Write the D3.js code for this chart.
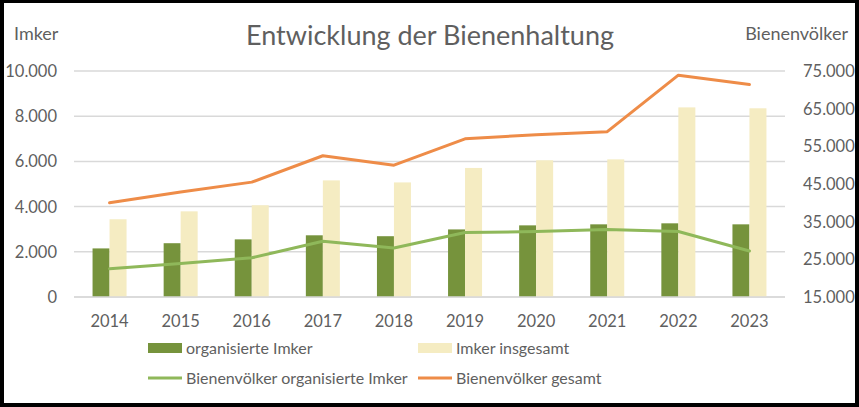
<!DOCTYPE html>
<html><head><meta charset="utf-8">
<script src="https://cdn.jsdelivr.net/npm/d3@7"></script>
<style>html,body{margin:0;padding:0;background:#fff}svg{display:block}</style>
</head><body>
<svg id="c" width="859" height="407"></svg>
<script>
const years = ["2014","2015","2016","2017","2018","2019","2020","2021","2022","2023"];
const organisierteImker = [2150,2380,2550,2730,2690,2990,3170,3215,3260,3215];
const imkerInsgesamt = [3440,3790,4060,5160,5070,5710,6050,6090,8390,8350];
const voelkerOrganisiert = [22500,23900,25400,29800,28000,32100,32400,32900,32400,27200];
const voelkerGesamt = [40000,42900,45500,52500,50000,57000,58100,58900,73900,71400];
const leftTicks = [0,2000,4000,6000,8000,10000];
const rightTicks = [15000,25000,35000,45000,55000,65000,75000];

const FONT = "Lato, 'Open Sans', sans-serif";
const TXT = "#5f5f5f";
const C_DARK = "#76933c", C_LIGHT = "#f5ecc2", C_GLINE = "#8fb85a", C_ORANGE = "#ee8c48";
const fmt = d => d3.format(",")(d).replace(/,/g, ".");

const svg = d3.select("#c");
svg.append("rect").attr("width",859).attr("height",407).attr("fill","#000");
svg.append("rect").attr("x",4).attr("y",3).attr("width",851).attr("height",400).attr("fill","#fff");

const x0 = 74, x1 = 785, yTop = 71, yBot = 297;
const x = d3.scaleBand().domain(years).range([x0,x1]).paddingInner(0).paddingOuter(0);
const yL = d3.scaleLinear().domain([0,10000]).range([yBot,yTop]);
const yR = d3.scaleLinear().domain([15000,75000]).range([yBot,yTop]);
const barW = 17;

// gridlines
svg.append("g").selectAll("line").data(leftTicks).join("line")
  .attr("x1",x0).attr("x2",x1).attr("y1",d=>yL(d)).attr("y2",d=>yL(d))
  .attr("stroke","#d9d9d9").attr("stroke-width",1.5);

// left axis labels
svg.append("g").selectAll("text").data(leftTicks).join("text")
  .attr("x",57).attr("y",d=>yL(d)+6).attr("text-anchor","end")
  .attr("font-family",FONT).attr("font-size",16.5).attr("fill",TXT).text(fmt);
// right axis labels
svg.append("g").selectAll("text").data(rightTicks).join("text")
  .attr("x",803).attr("y",d=>yR(d)+6).attr("text-anchor","start")
  .attr("font-family",FONT).attr("font-size",16.5).attr("fill",TXT).text(fmt);

// bars
svg.append("g").selectAll("rect").data(years).join("rect")
  .attr("x",d=>x(d)+x.bandwidth()/2-barW).attr("width",barW)
  .attr("y",(d,i)=>yL(organisierteImker[i])).attr("height",(d,i)=>yBot-yL(organisierteImker[i]))
  .attr("fill",C_DARK);
svg.append("g").selectAll("rect").data(years).join("rect")
  .attr("x",d=>x(d)+x.bandwidth()/2).attr("width",barW)
  .attr("y",(d,i)=>yL(imkerInsgesamt[i])).attr("height",(d,i)=>yBot-yL(imkerInsgesamt[i]))
  .attr("fill",C_LIGHT);

// baseline
svg.append("line").attr("x1",x0).attr("x2",x1).attr("y1",yBot).attr("y2",yBot)
  .attr("stroke","#d9d9d9").attr("stroke-width",1.5);

// lines
const line = d3.line().x((d,i)=>x(years[i])+x.bandwidth()/2).y(d=>yR(d));
svg.append("path").datum(voelkerOrganisiert).attr("d",line).attr("fill","none")
  .attr("stroke",C_GLINE).attr("stroke-width",3).attr("stroke-linejoin","round").attr("stroke-linecap","round");
svg.append("path").datum(voelkerGesamt).attr("d",line).attr("fill","none")
  .attr("stroke",C_ORANGE).attr("stroke-width",3).attr("stroke-linejoin","round").attr("stroke-linecap","round");

// x labels
svg.append("g").selectAll("text").data(years).join("text")
  .attr("x",d=>x(d)+x.bandwidth()/2).attr("y",327).attr("text-anchor","middle")
  .attr("font-family",FONT).attr("font-size",16.5).attr("fill",TXT).text(d=>d);

// title & axis titles
svg.append("text").attr("x",430).attr("y",45).attr("text-anchor","middle")
  .attr("font-family",FONT).attr("font-size",27).attr("fill",TXT).text("Entwicklung der Bienenhaltung");
svg.append("text").attr("x",14).attr("y",40)
  .attr("font-family",FONT).attr("font-size",18).attr("fill",TXT).text("Imker");
svg.append("text").attr("x",848).attr("y",40).attr("text-anchor","end")
  .attr("font-family",FONT).attr("font-size",18).attr("fill",TXT).text("Bienenvölker");

// legend
const legend = [
  {name:"organisierte Imker", type:"bar", color:C_DARK, x:148, y:348},
  {name:"Imker insgesamt", type:"bar", color:C_LIGHT, x:418, y:348},
  {name:"Bienenvölker organisierte Imker", type:"line", color:C_GLINE, x:148, y:378},
  {name:"Bienenvölker gesamt", type:"line", color:C_ORANGE, x:418, y:378}
];
const lg = svg.append("g").selectAll("g").data(legend).join("g")
  .attr("transform",d=>`translate(${d.x},${d.y})`);
lg.filter(d=>d.type==="bar").append("rect").attr("x",0).attr("y",-5).attr("width",34).attr("height",10).attr("fill",d=>d.color);
lg.filter(d=>d.type==="line").append("line").attr("x1",0).attr("x2",34).attr("y1",0).attr("y2",0)
  .attr("stroke",d=>d.color).attr("stroke-width",3);
lg.append("text").attr("x",38).attr("y",6).attr("font-family",FONT).attr("font-size",16).attr("fill",TXT).text(d=>d.name);
</script>
</body></html>
